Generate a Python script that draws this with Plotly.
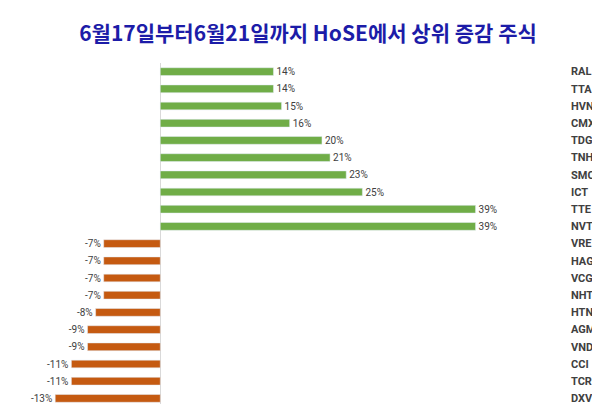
import plotly.graph_objects as go

stocks = ["RAL", "TTA", "HVN", "CMX", "TDG", "TNH", "SMC", "ICT", "TTE", "NVT",
          "VRE", "HAG", "VCG", "NHT", "HTN", "AGM", "VND", "CCI", "TCR", "DXV"]
changes = [14, 14, 15, 16, 20, 21, 23, 25, 39, 39,
           -7, -7, -7, -7, -8, -9, -9, -11, -11, -13]

colors = ["#70ad47" if v > 0 else "#c55a11" for v in changes]
labels = [f"{v}%" for v in changes]

fig = go.Figure(go.Bar(
    x=changes, y=stocks, orientation="h",
    marker_color=colors, text=labels, textposition="outside",
    constraintext="none",
    textfont=dict(size=10, color="#404040", family="Liberation Sans Narrow, Roboto"),
    cliponaxis=False,
))

fig.update_layout(
    width=600, height=404,
    paper_bgcolor="white", plot_bgcolor="white",
    margin=dict(l=27, r=50, t=55, b=5, autoexpand=False),
    bargap=0.55,
    showlegend=False,
    title=dict(text="<b>6월17일부터6월21일까지 HoSE에서 상위 증감 주식</b>",
               x=0.5, y=0.955, xanchor="center",
               font=dict(size=21, color="#1c1ca8", family="Noto Sans CJK KR")),
)
fig.update_xaxes(range=[-15.5, 49.2], showticklabels=False, automargin=False,
                 showgrid=False, zeroline=True, zerolinecolor="#d9d9d9", zerolinewidth=1)
fig.update_yaxes(side="right", range=[19.5, -0.5], showgrid=False, automargin=False,
                 ticks="", ticklabelstandoff=12,
                 tickfont=dict(size=11, color="#404040", family="Liberation Sans Narrow, Roboto",
                               weight="bold"))

fig.write_html("out.html")
